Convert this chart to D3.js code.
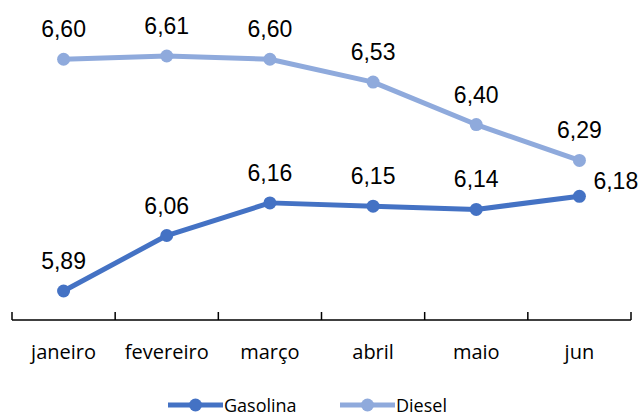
<!DOCTYPE html>
<html><head><meta charset="utf-8">
<script src="https://cdn.jsdelivr.net/npm/d3@7/dist/d3.min.js"></script>
<style>body{margin:0;background:#fff}</style>
</head><body>
<svg id="c" width="640" height="416"></svg>
<script>
const categories = ["janeiro","fevereiro","março","abril","maio","jun"];
const gasolina = [5.89, 6.06, 6.16, 6.15, 6.14, 6.18];
const diesel = [6.60, 6.61, 6.60, 6.53, 6.40, 6.29];
const seriesNames = ["Gasolina","Diesel"];
const colors = ["#4472C4","#8FAADC"];

const svg = d3.select("#c");
const x = d3.scaleBand().domain(categories).range([12, 631]);
const y = d3.scaleLinear().domain([5.89, 6.61]).range([291, 56]);
const axisY = 320;

const ax = svg.append("g").attr("transform", `translate(0,${axisY})`);
ax.append("line").attr("x1", 12).attr("x2", 631).attr("stroke", "#000").attr("stroke-width", 1.5);
const edges = categories.map(c => x(c)).concat([x.range()[1]]);
ax.selectAll(".tk").data(edges).join("line")
  .attr("x1", d => d).attr("x2", d => d).attr("y1", -8).attr("y2", 0)
  .attr("stroke", "#000").attr("stroke-width", 1.5);
ax.selectAll(".lb").data(categories).join("text")
  .attr("x", d => x(d) + x.bandwidth()/2).attr("y", 39)
  .attr("text-anchor", "middle").attr("font-family", "Open Sans, Noto Sans, sans-serif")
  .attr("font-size", 20).attr("fill", "#000").text(d => d);

const data = [gasolina, diesel];
const line = d3.line().x((d,i) => x(categories[i]) + x.bandwidth()/2).y(d => y(d));
data.forEach((s, k) => {
  svg.append("path").attr("d", line(s)).attr("fill", "none")
    .attr("stroke", colors[k]).attr("stroke-width", 5).attr("stroke-linejoin", "round");
  svg.selectAll(null).data(s).join("circle")
    .attr("cx", (d,i) => x(categories[i]) + x.bandwidth()/2).attr("cy", d => y(d))
    .attr("r", 6.5).attr("fill", colors[k]);
  svg.selectAll(null).data(s).join("text")
    .attr("x", (d,i) => {
      const cx = x(categories[i]) + x.bandwidth()/2;
      return (k === 0 && i === s.length-1) ? cx + 14 : cx;
    })
    .attr("y", (d,i) => (k === 0 && i === s.length-1) ? y(d) - 7 : y(d) - 22)
    .attr("text-anchor", (d,i) => (k === 0 && i === s.length-1) ? "start" : "middle")
    .attr("font-family", "Liberation Sans, Arial, sans-serif").attr("font-size", 23)
    .attr("fill", "#000").text(d => d.toFixed(2).replace(".", ","));
});

// legend
const lg = svg.append("g").attr("transform", "translate(0,405)");
const lx = [168, 340];
seriesNames.forEach((n, k) => {
  lg.append("line").attr("x1", lx[k]).attr("x2", lx[k] + 55).attr("stroke", colors[k]).attr("stroke-width", 5);
  lg.append("circle").attr("cx", lx[k] + 27.5).attr("cy", 0).attr("r", 6.5).attr("fill", colors[k]);
  lg.append("text").attr("x", lx[k] + 56).attr("y", 7).attr("font-family", "Open Sans, Noto Sans, sans-serif")
    .attr("font-size", 18).attr("fill", "#000").text(n);
});
</script>
</body></html>
